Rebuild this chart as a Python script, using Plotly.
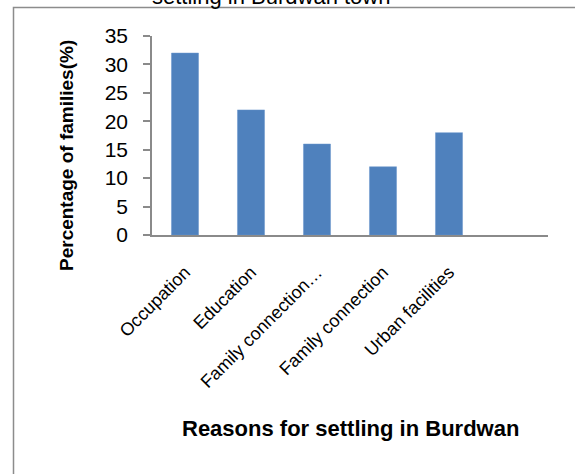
import plotly.graph_objects as go

categories = ["Occupation", "Education", "Family connection…", "Family connection", "Urban facilities", " "]
values = [32, 22, 16, 12, 18, None]
y_ticks = [0, 5, 10, 15, 20, 25, 30, 35]

W, H = 575, 474
L, R, T, B = 152, 548, 36, 235

def px(x):
    return (x - L) / (R - L)

def py(y):
    return (B - y) / (B - T)

fig = go.Figure(go.Bar(
    x=categories, y=values,
    marker=dict(color="#4F81BD", line=dict(color="#6A96CC", width=0.5)),
    width=0.41,
))

fig.update_layout(
    width=W, height=H,
    margin=dict(l=L, r=W - R, t=T, b=H - B, pad=0),
    plot_bgcolor="white", paper_bgcolor="white",
    showlegend=False,
    font=dict(family="Liberation Sans, Arial, sans-serif", color="black"),
    bargap=0.59,
)
fig.update_xaxes(
    type="category", categoryorder="array", categoryarray=categories,
    range=[-0.5, len(categories) - 0.5],
    showline=True, linecolor="#8a8a8a", linewidth=1.5,
    ticks="", tickangle=-45, tickfont=dict(size=18, color="black"),
    ticklabelstandoff=18,
    showgrid=False, zeroline=False,
)
fig.update_yaxes(
    range=[0, 35], tickvals=y_ticks,
    showline=True, linecolor="#8a8a8a", linewidth=1.5,
    ticks="outside", ticklen=7, tickcolor="#8a8a8a", tickwidth=1.5,
    tickfont=dict(size=21, color="black"), ticklabelstandoff=11,
    showgrid=False, zeroline=False,
)

fig.add_shape(type="rect", xref="paper", yref="paper",
              x0=px(13.5), y0=py(700), x1=px(900), y1=py(7.5),
              line=dict(color="#8c8c8c", width=1.5), fillcolor="rgba(0,0,0,0)", layer="below")

fig.add_annotation(text="settling in Burdwan town", xref="paper", yref="paper",
                   x=px(271), y=py(-4), xanchor="center", yanchor="middle",
                   showarrow=False, font=dict(size=22, color="black"))
fig.add_annotation(text="<b>Percentage of families(%)</b>", xref="paper", yref="paper",
                   x=px(66), y=py(156), xanchor="center", yanchor="middle", textangle=-90,
                   showarrow=False, font=dict(size=19, color="black"))
fig.add_annotation(text="<b>Reasons for settling in Burdwan</b>", xref="paper", yref="paper",
                   x=px(350), y=py(428), xanchor="center", yanchor="middle",
                   showarrow=False, font=dict(size=22, color="black"))

fig.write_html("out.html")
